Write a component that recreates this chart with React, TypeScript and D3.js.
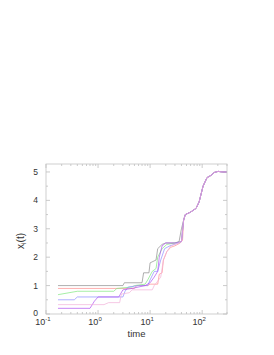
import React from "react";
import * as d3 from "d3";

const seriesColors = ["#8c8c8c", "#ff8c8c", "#80e880", "#8c8cff", "#b050f0", "#f0b0d8"];

const grayT = [0.17, 3.0, 3.2, 7.0, 7.5, 9.5, 10, 13, 14, 17, 20, 30, 36, 40];
const grayV = [1.0, 1.0, 1.1, 1.1, 1.45, 1.45, 1.8, 1.9, 2.3, 2.45, 2.5, 2.5, 2.55, 3.0];
const redT = [0.17, 5, 5.5, 9, 10, 14, 15, 17, 18, 21, 25, 30, 38, 42];
const redV = [0.9, 0.9, 1.0, 1.0, 1.05, 1.05, 1.4, 1.45, 1.9, 2.2, 2.35, 2.4, 2.5, 2.6];
const greenT = [0.17, 0.4, 2.0, 2.3, 4.5, 5, 8, 9, 11, 13, 14, 17, 21, 30, 40];
const greenV = [0.68, 0.8, 0.8, 0.9, 0.95, 1.0, 1.05, 1.2, 1.5, 1.6, 2.0, 2.3, 2.45, 2.5, 2.55];
const blueT = [0.17, 0.35, 0.4, 3.0, 3.3, 3.8, 6, 9, 10, 12, 14, 16, 19, 24, 35, 40];
const blueV = [0.5, 0.5, 0.6, 0.6, 0.8, 0.95, 1.0, 1.0, 1.2, 1.5, 1.5, 1.9, 2.3, 2.4, 2.5, 2.55];
const purpleT = [0.17, 0.7, 0.85, 1.0, 2.5, 3.0, 4.5, 8, 10, 12, 14, 15, 17, 20, 30, 40];
const purpleV = [0.2, 0.2, 0.45, 0.6, 0.6, 0.85, 0.9, 1.0, 1.1, 1.3, 1.5, 2.0, 2.4, 2.5, 2.5, 2.55];
const pinkT = [0.17, 1.3, 1.6, 2.6, 2.8, 4.0, 4.5, 11, 12, 16, 18, 21, 25, 35, 40];
const pinkV = [0.33, 0.33, 0.4, 0.4, 0.7, 0.75, 0.85, 0.85, 1.0, 1.3, 1.9, 2.2, 2.4, 2.5, 2.55];

const tailT = [44, 47.4, 59, 76.5, 87.5, 104, 124, 148, 170, 203, 242, 300];
const tailV = [3.3, 3.5, 3.58, 3.72, 3.95, 4.5, 4.8, 4.88, 4.98, 5.02, 5.0, 5.0];

const headTimes = [grayT, redT, greenT, blueT, purpleT, pinkT];
const headValues = [grayV, redV, greenV, blueV, purpleV, pinkV];

const yTicks = [0, 1, 2, 3, 4, 5];
const xTickExps = ["-1", "0", "1", "2"];
const xTickVals = [0.1, 1, 10, 100];

export default function App() {
  const W = 274, H = 355;
  const left = 46, right = 227, top = 164, bottom = 314;
  const x = d3.scaleLog().domain([0.1, 300]).range([left, right]);
  const y = d3.scaleLinear().domain([0, 5.28]).range([bottom, top]);
  const line = d3.line<[number, number]>().x(d => x(d[0])).y(d => y(d[1]));

  const series = headTimes.map((ts, i) => {
    const pts: [number, number][] = ts.map((t, j) => [t, headValues[i][j]]);
    tailT.forEach((t, j) => pts.push([t, tailV[j]]));
    return pts;
  });

  const minor: number[] = [];
  for (let e = -1; e <= 2; e++) {
    for (let m = 2; m <= 9; m++) {
      const v = m * Math.pow(10, e);
      if (v <= 300) minor.push(v);
    }
  }
  const yMinor = [0.5, 1.5, 2.5, 3.5, 4.5];
  const frame = "#c4c4c4";
  const tickCol = "#a8a8a8";
  const font = "Liberation Sans, Arial, sans-serif";
  const textCol = "#333";

  return (
    <svg width={W} height={H} style={{ position: "absolute", left: 0, top: 0 }}>
      <rect x={0} y={0} width={W} height={H} fill="#fff" />
      {xTickVals.map((v, i) => (
        <g key={"xt" + i}>
          <line x1={x(v)} x2={x(v)} y1={bottom} y2={bottom - 4} stroke={tickCol} strokeWidth={0.6} />
          <line x1={x(v)} x2={x(v)} y1={top} y2={top + 4} stroke={tickCol} strokeWidth={0.6} />
        </g>
      ))}
      {minor.map((v, i) => (
        <g key={"xm" + i}>
          <line x1={x(v)} x2={x(v)} y1={bottom} y2={bottom - 2} stroke={tickCol} strokeWidth={0.6} />
          <line x1={x(v)} x2={x(v)} y1={top} y2={top + 2} stroke={tickCol} strokeWidth={0.6} />
        </g>
      ))}
      {yTicks.map((v, i) => (
        <g key={"yt" + i}>
          <line x1={left} x2={left + 4} y1={y(v)} y2={y(v)} stroke={tickCol} strokeWidth={0.6} />
          <line x1={right} x2={right - 4} y1={y(v)} y2={y(v)} stroke={tickCol} strokeWidth={0.6} />
        </g>
      ))}
      {yMinor.map((v, i) => (
        <g key={"ym" + i}>
          <line x1={left} x2={left + 2} y1={y(v)} y2={y(v)} stroke={tickCol} strokeWidth={0.6} />
          <line x1={right} x2={right - 2} y1={y(v)} y2={y(v)} stroke={tickCol} strokeWidth={0.6} />
        </g>
      ))}
      {series.map((pts, i) => (
        <path key={"s" + i} d={line(pts) || ""} fill="none" stroke={seriesColors[i]} strokeWidth={0.7} />
      ))}
      <rect x={left} y={top} width={right - left} height={bottom - top} fill="none" stroke={frame} strokeWidth={0.8} />
      {yTicks.map((v, i) => (
        <text key={"yl" + i} x={left - 8} y={y(v) + (v === 0 ? 2 : 3)} textAnchor="end" fontSize={8.5} fontFamily={font} fill={textCol}>
          {v}
        </text>
      ))}
      {xTickVals.map((v, i) => (
        <text key={"xl" + i} x={x(v) - 3} y={325} textAnchor="middle" fontSize={9} fontFamily={font} fill={textCol}>
          10
          <tspan dy={-4} fontSize={6}>{xTickExps[i]}</tspan>
        </text>
      ))}
      <text x={(left + right) / 2} y={337} textAnchor="middle" fontSize={9.5} fontFamily={font} fill={textCol}>
        time
      </text>
      <text transform={`translate(24,${241}) rotate(-90)`} textAnchor="middle" fontSize={10} fontFamily={font} fill={textCol}>
        x
        <tspan dy={2} fontSize={7}>i</tspan>
        <tspan dy={-2}>(t)</tspan>
      </text>
    </svg>
  );
}
